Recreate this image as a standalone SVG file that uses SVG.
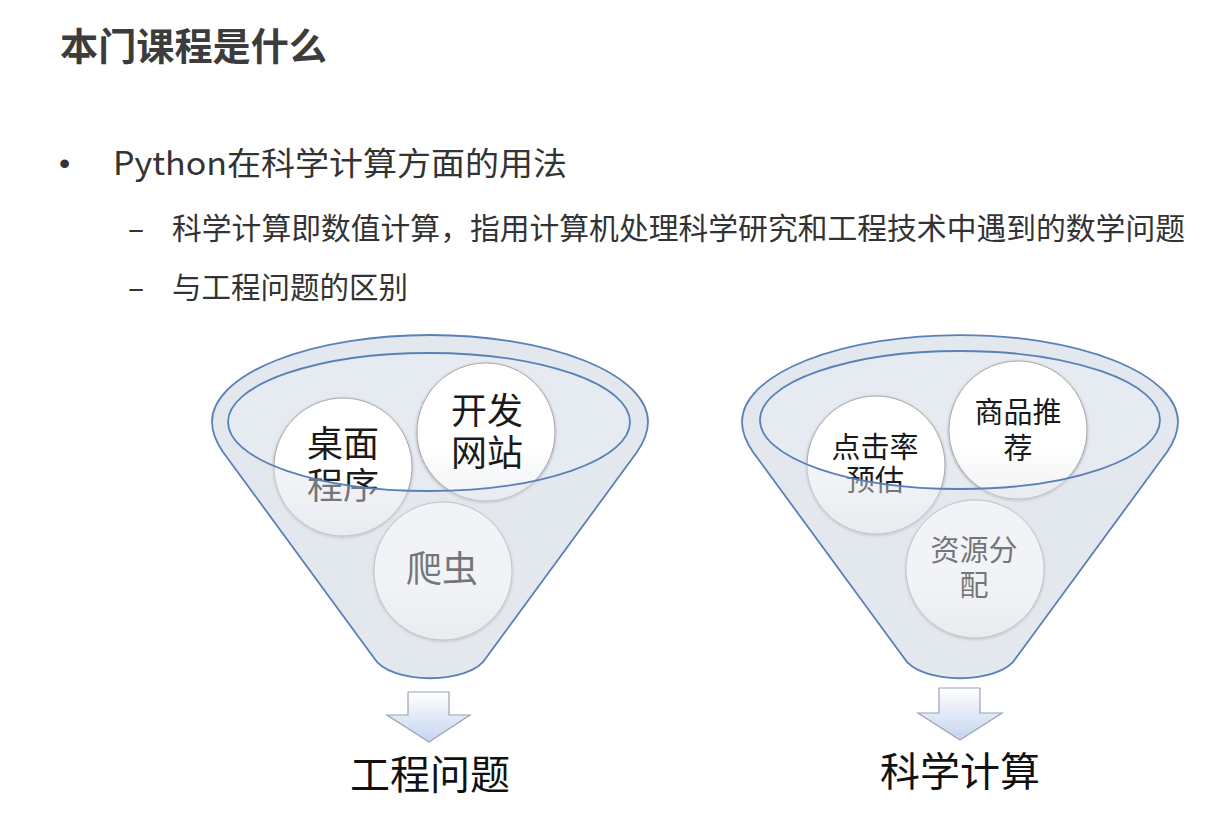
<svg xmlns="http://www.w3.org/2000/svg" width="1219" height="829" viewBox="0 0 1219 829">
<defs>
<style>
.title{font-family:"Noto Sans CJK SC","Noto Sans",sans-serif;font-weight:bold;font-size:38px;fill:#3c3c3c}
.main{font-family:"Noto Sans CJK SC","Noto Sans",sans-serif;font-size:32px;fill:#333}
.sub{font-family:"Noto Sans CJK SC","Noto Sans",sans-serif;font-size:30px;fill:#333}
.bul{font-family:"Liberation Sans",sans-serif;font-size:32px;fill:#333}
.funnel{fill:#e6eaf1;stroke:none}
.overlay{fill:#dfe4ec;fill-opacity:0.45;fill-rule:evenodd;stroke:none}
.outline{fill:none;stroke:#5a80b8;stroke-width:1.8}
.circ{fill:url(#cg);stroke:#a8a8a8;stroke-width:1;filter:url(#sh)}
.lbl{font-family:"Noto Sans CJK SC",sans-serif;fill:#1a1a1a;text-anchor:middle}
.big{font-size:36px}
.small{font-size:29px}
.arrow{fill:url(#ag);stroke:#9aa4b2;stroke-width:1.2}
.cap{font-family:"Noto Sans CJK SC",sans-serif;font-size:40px;fill:#111;text-anchor:middle}
</style>
<linearGradient id="cg" x1="0" y1="0" x2="0" y2="1">
<stop offset="0" stop-color="#ffffff"/>
<stop offset="0.6" stop-color="#ffffff"/>
<stop offset="1" stop-color="#f0f1f3"/>
</linearGradient>
<linearGradient id="ag" x1="0" y1="0" x2="0" y2="1">
<stop offset="0" stop-color="#ffffff"/>
<stop offset="1" stop-color="#c4d4ee"/>
</linearGradient>
<filter id="sh" x="-20%" y="-20%" width="140%" height="140%">
<feDropShadow dx="0" dy="1" stdDeviation="1.5" flood-color="#000" flood-opacity="0.3"/>
</filter>
</defs>
<rect width="1219" height="829" fill="#ffffff"/>

<g id="header">
<text class="title" x="60" y="60" textLength="267" lengthAdjust="spacingAndGlyphs">本门课程是什么</text>
<text class="bul" x="59" y="174">•</text>
<text class="main" x="113" y="175" textLength="454" lengthAdjust="spacingAndGlyphs">Python在科学计算方面的用法</text>
<text class="sub" x="128" y="239">–</text>
<text class="sub" x="172" y="239" textLength="1013" lengthAdjust="spacingAndGlyphs">科学计算即数值计算，指用计算机处理科学研究和工程技术中遇到的数学问题</text>
<text class="sub" x="128" y="298">–</text>
<text class="sub" x="172" y="298" textLength="236" lengthAdjust="spacingAndGlyphs">与工程问题的区别</text>
</g>

<!-- Left funnel -->
<g id="funnel-left">
<path class="funnel" d="M 223,452 Q 212,436 212,422 A 218 87 0 0 1 648,422 Q 648,436 637,452 L 486,658 C 470,685 390,685 374,658 Z"/>
<g id="node-desktop">
<circle class="circ" cx="343" cy="467" r="69"/>
<text class="lbl big"><tspan x="343" y="457">桌面</tspan><tspan x="343" y="499">程序</tspan></text>
</g>
<g id="node-website">
<circle class="circ" cx="486" cy="432" r="69"/>
<text class="lbl big"><tspan x="487" y="424">开发</tspan><tspan x="487" y="466">网站</tspan></text>
</g>
<g id="node-crawler">
<circle class="circ" cx="443" cy="571" r="69"/>
<text class="lbl big" x="442" y="582">爬虫</text>
</g>
<path class="overlay" d="M 223,452 Q 212,436 212,422 A 218 87 0 0 1 648,422 Q 648,436 637,452 L 486,658 C 470,685 390,685 374,658 Z M 228,422 a 201 69 0 1 0 402 0 a 201 69 0 1 0 -402 0 Z"/>
<path class="outline" d="M 223,452 Q 212,436 212,422 A 218 87 0 0 1 648,422 Q 648,436 637,452 L 486,658 C 470,685 390,685 374,658 Z"/>
<ellipse class="outline" cx="429" cy="422" rx="201" ry="69"/>
</g>

<!-- Right funnel -->
<g id="funnel-right">
<path class="funnel" d="M 753,452 Q 742,436 742,422 A 218 87 0 0 1 1178,422 Q 1178,436 1167,452 L 1016,658 C 1000,685 920,685 904,658 Z"/>
<g id="node-ctr">
<circle class="circ" cx="876" cy="465" r="69"/>
<text class="lbl small"><tspan x="875" y="458">点击率</tspan><tspan x="875" y="491">预估</tspan></text>
</g>
<g id="node-recommend">
<circle class="circ" cx="1018" cy="430" r="69"/>
<text class="lbl small"><tspan x="1018" y="423">商品推</tspan><tspan x="1018" y="459">荐</tspan></text>
</g>
<g id="node-resource">
<circle class="circ" cx="975" cy="569" r="69"/>
<text class="lbl small"><tspan x="974" y="561">资源分</tspan><tspan x="974" y="596">配</tspan></text>
</g>
<path class="overlay" d="M 753,452 Q 742,436 742,422 A 218 87 0 0 1 1178,422 Q 1178,436 1167,452 L 1016,658 C 1000,685 920,685 904,658 Z M 760,420 a 200 69 0 1 0 400 0 a 200 69 0 1 0 -400 0 Z"/>
<path class="outline" d="M 753,452 Q 742,436 742,422 A 218 87 0 0 1 1178,422 Q 1178,436 1167,452 L 1016,658 C 1000,685 920,685 904,658 Z"/>
<ellipse class="outline" cx="960" cy="420" rx="200" ry="69"/>
</g>

<g id="connectors">
<path class="arrow" d="M 408,692 H 449 V 715 H 470 L 429,742 L 387,715 H 408 Z"/>
<path class="arrow" d="M 939,688 H 980 V 713 H 1002 L 960,740 L 918,713 H 939 Z"/>
</g>

<g id="result-left">
<text class="cap" x="430" y="789">工程问题</text>
</g>
<g id="result-right">
<text class="cap" x="960" y="786">科学计算</text>
</g>
</svg>
